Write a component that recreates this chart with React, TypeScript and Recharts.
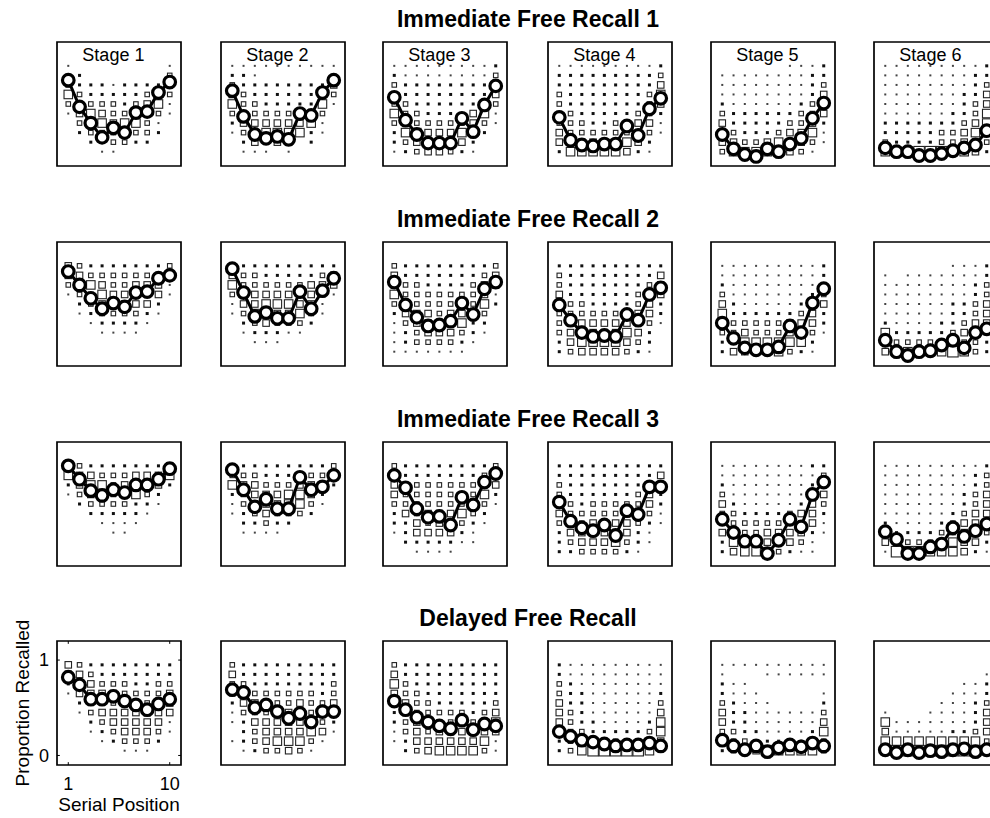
import React from 'react';
import { ScatterChart, Scatter, XAxis, YAxis, ReferenceArea, ReferenceLine } from 'recharts';

// serial positions (x) and proportion-recalled bins (y) of the square grid
const serialPositions = [1, 2, 3, 4, 5, 6, 7, 8, 9, 10];
const binLevels = [0.95, 0.85, 0.75, 0.65, 0.55, 0.45, 0.35, 0.25, 0.15, 0.05];
const stageLabels = ['Stage 1', 'Stage 2', 'Stage 3', 'Stage 4', 'Stage 5', 'Stage 6'];
const rowTitles = ['Immediate Free Recall 1', 'Immediate Free Recall 2', 'Immediate Free Recall 3', 'Delayed Free Recall'];

// mean proportion recalled per serial position, one array per stage
const meansIFR1 = [
  [0.80, 0.52, 0.35, 0.20, 0.30, 0.25, 0.46, 0.47, 0.67, 0.78],
  [0.69, 0.42, 0.23, 0.19, 0.21, 0.18, 0.45, 0.43, 0.67, 0.80],
  [0.62, 0.38, 0.23, 0.14, 0.14, 0.14, 0.40, 0.26, 0.54, 0.74],
  [0.41, 0.17, 0.12, 0.11, 0.13, 0.13, 0.32, 0.22, 0.50, 0.61],
  [0.23, 0.08, 0.02, 0.00, 0.08, 0.05, 0.13, 0.19, 0.40, 0.56],
  [0.09, 0.05, 0.05, 0.01, 0.01, 0.03, 0.06, 0.09, 0.12, 0.27],
];
const meansIFR2 = [
  [0.89, 0.75, 0.61, 0.50, 0.56, 0.52, 0.67, 0.68, 0.82, 0.85],
  [0.92, 0.67, 0.42, 0.46, 0.40, 0.40, 0.68, 0.50, 0.69, 0.82],
  [0.78, 0.54, 0.41, 0.32, 0.33, 0.37, 0.56, 0.44, 0.71, 0.78],
  [0.54, 0.38, 0.25, 0.21, 0.22, 0.21, 0.44, 0.38, 0.65, 0.72],
  [0.35, 0.19, 0.09, 0.07, 0.07, 0.10, 0.32, 0.25, 0.56, 0.71],
  [0.17, 0.05, 0.01, 0.05, 0.06, 0.12, 0.17, 0.09, 0.25, 0.29],
];
const meansIFR3 = [
  [0.95, 0.81, 0.69, 0.64, 0.70, 0.67, 0.75, 0.75, 0.81, 0.92],
  [0.91, 0.70, 0.52, 0.60, 0.50, 0.50, 0.83, 0.70, 0.73, 0.85],
  [0.85, 0.72, 0.50, 0.41, 0.42, 0.33, 0.62, 0.54, 0.78, 0.87],
  [0.57, 0.37, 0.30, 0.27, 0.33, 0.22, 0.48, 0.44, 0.73, 0.73],
  [0.39, 0.25, 0.16, 0.16, 0.03, 0.17, 0.39, 0.31, 0.65, 0.78],
  [0.26, 0.18, 0.03, 0.03, 0.10, 0.13, 0.30, 0.21, 0.27, 0.34],
];
const meansDFR = [
  [0.82, 0.74, 0.59, 0.59, 0.62, 0.57, 0.53, 0.48, 0.54, 0.59],
  [0.69, 0.66, 0.50, 0.53, 0.46, 0.39, 0.44, 0.35, 0.46, 0.46],
  [0.57, 0.48, 0.40, 0.35, 0.31, 0.28, 0.37, 0.27, 0.33, 0.31],
  [0.25, 0.20, 0.16, 0.14, 0.12, 0.10, 0.11, 0.11, 0.13, 0.10],
  [0.16, 0.10, 0.06, 0.10, 0.04, 0.08, 0.11, 0.09, 0.13, 0.10],
  [0.06, 0.03, 0.06, 0.03, 0.05, 0.04, 0.06, 0.07, 0.04, 0.06],
];

// how many subjects fall in each bin (0 = none .. 6 = most), rows top to bottom
const gridsIFR1 = [
  ['1000000001', '2200000003', '3222122223', '5322222343', '3333323451', '1454333331', '0305455310', '0233333320', '0022332200', '0001100000'],
  ['1111111111', '2210000001', '3222222224', '4322222233', '5332222251', '3333333330', '2444444510', '1305555210', '0240440200', '0111010000'],
  ['1111111112', '2111111113', '3222222224', '3222222224', '3322222233', '5332222451', '3333333431', '2554445320', '2344444200', '1234432100'],
  ['1111111112', '2222222223', '2222222224', '3222222235', '3222222234', '3322222332', '3332233441', '4333333331', '4444445420', '2555554210'],
  ['0000001112', '1111111122', '1111111123', '1111111124', '2111111234', '3222222334', '4222223342', '3322234451', '4433454431', '3555554310'],
  ['1111111112', '1111111122', '1111111123', '1111111224', '1111111234', '1111112235', '2222222345', '2222233453', '3222233443', '5556665542'],
];
const gridsIFR2 = [
  ['4322222223', '4433333334', '3354334441', '1335444341', '0234444420', '0123333210', '0012222100', '0001111000', '0000000000', '0000000000'],
  ['3222222222', '4332222234', '5333333444', '3444444431', '1445554410', '1354445310', '0234333200', '0122211000', '0011100000', '0000000000'],
  ['3222222223', '4222222234', '4332222344', '5333333341', '3333333352', '2444344430', '1344445220', '1234443210', '1233332100', '1111111000'],
  ['2222222222', '3222222224', '3222222234', '4222222334', '4332222342', '3333333442', '3444444331', '3444445420', '2455554320', '2344443210'],
  ['1111111112', '1111111112', '2111111112', '3111111123', '4211111234', '5222222342', '3333334442', '3343334431', '2355555520', '2444453210'],
  ['0000001112', '1011111112', '1111111123', '1111111123', '1111112234', '1111112234', '2111122344', '5222223442', '4333333332', '4455556532'],
];
const gridsIFR3 = [
  ['4322222224', '5443334445', '2455344442', '1344345320', '0233332210', '0022222100', '0001111000', '0000110000', '0000000000', '0000000000'],
  ['3222222223', '3332223334', '5443334442', '2344455420', '1344455310', '1234333200', '0223220000', '0111100000', '0000000000', '0000000000'],
  ['3222222223', '3222222234', '4333333334', '4333333352', '3333333331', '2434445320', '2243443210', '1244442100', '0222221100', '0011110000'],
  ['2222222222', '2222222224', '3222222234', '3222222342', '3323333342', '4333334431', '3434444321', '2444444210', '2344453210', '2233332100'],
  ['1111111122', '1111111113', '2111111123', '3111111134', '4211111243', '3322223442', '3333333341', '4433444421', '2544444310', '2455432110'],
  ['1111111112', '1111111123', '1111111123', '1111111234', '1111111234', '1111112344', '2111123444', '3222233433', '4433345442', '1666555421'],
];
const gridsDFR = [
  ['4322222222', '4432222222', '2443332233', '1444433334', '0233344344', '0134444444', '0023444441', '0012344431', '0001233320', '0000011100'],
  ['3222222222', '4222222222', '3322222223', '3333333323', '2444334334', '1333444344', '1244444432', '0234444541', '1234555310', '0123343100'],
  ['3222222222', '4222222222', '5322222222', '4332222222', '4433222223', '2333333234', '2344334335', '1343444444', '1244444451', '0234555531'],
  ['2111111111', '2111111111', '3211111111', '3221111112', '4221111113', '4321111114', '4322111125', '4332222235', '2343333334', '2356666651'],
  ['1111111111', '1000111111', '2110000000', '2111000001', '3211100002', '4221111113', '4221111114', '3322111125', '4332222243', '2334655553'],
  ['0000000000', '0000000001', '0000000112', '0000001112', '0000011123', '1000111124', '5111111124', '4111112234', '5555555553', '5666666665'],
];

const panelRows = [
  { title: rowTitles[0], means: meansIFR1, grids: gridsIFR1 },
  { title: rowTitles[1], means: meansIFR2, grids: gridsIFR2 },
  { title: rowTitles[2], means: meansIFR3, grids: gridsIFR3 },
  { title: rowTitles[3], means: meansDFR, grids: gridsDFR },
];

const FONT = "'Liberation Sans', Arial, Helvetica, sans-serif";
const COL_LEFT = [57, 221, 383, 548, 711, 874];
const ROW_TOP = [42, 242, 442, 641];
const BOX = 124;
const PAD = 2;
const SIDE = [0, 2, 3, 4.5, 6.5, 8.5, 10.5];

const SquareMark = (props: any) => {
  const { cx, cy, payload } = props;
  const side = SIDE[payload.s];
  if (payload.s <= 2) {
    return <rect x={cx - side / 2} y={cy - side / 2} width={side} height={side} fill={payload.s === 1 ? '#444' : '#111'} />;
  }
  return (
    <rect x={cx - side / 2} y={cy - side / 2} width={side} height={side} fill="#fff" stroke="#222" strokeWidth={1.1} />
  );
};

const CircleMark = (props: any) => {
  const { cx, cy } = props;
  return <circle cx={cx} cy={cy} r={5.8} fill="#fff" stroke="#000" strokeWidth={3.2} />;
};

function Panel({ means, grid, left, top, showAxes }: { means: number[]; grid: string[]; left: number; top: number; showAxes: boolean }) {
  const squares: { x: number; y: number; s: number }[] = [];
  grid.forEach((row, r) => {
    serialPositions.forEach((x, c) => {
      const s = Number(row[c]);
      if (s > 0) squares.push({ x, y: binLevels[r], s });
    });
  });
  const points = serialPositions.map((x, i) => ({ x, y: means[i] }));
  const yAxisW = showAxes ? 42 : 0;
  const xAxisH = showAxes ? 34 : 0;

  return (
    <div style={{ position: 'absolute', left: left - PAD - yAxisW, top: top - PAD }}>
      <ScatterChart
        width={BOX + 2 * PAD + yAxisW}
        height={BOX + 2 * PAD + xAxisH}
        margin={{ top: PAD, right: PAD, bottom: PAD, left: PAD }}
      >
        <XAxis
          type="number"
          dataKey="x"
          domain={[0, 11]}
          ticks={[1, 10]}
          hide={!showAxes}
          height={xAxisH}
          axisLine={false}
          tickLine={false}
          tickMargin={6}
          tick={{ fontSize: 18, fill: '#000' }}
          allowDataOverflow
        />
        <YAxis
          type="number"
          dataKey="y"
          domain={[-0.1, 1.2]}
          ticks={[0, 1]}
          hide={!showAxes}
          width={yAxisW}
          axisLine={false}
          tickLine={false}
          tick={{ fontSize: 18, fill: '#000' }}
          allowDataOverflow
        />
        <ReferenceArea x1={0} x2={11} y1={-0.1} y2={1.2} fill="none" stroke="#000" strokeWidth={1.7} />
        {showAxes && (
          <>
            <ReferenceLine segment={[{ x: 1, y: -0.1 }, { x: 1, y: -0.07 }]} stroke="#000" />
            <ReferenceLine segment={[{ x: 10, y: -0.1 }, { x: 10, y: -0.07 }]} stroke="#000" />
            <ReferenceLine segment={[{ x: 1, y: 1.2 }, { x: 1, y: 1.17 }]} stroke="#000" />
            <ReferenceLine segment={[{ x: 10, y: 1.2 }, { x: 10, y: 1.17 }]} stroke="#000" />
            <ReferenceLine segment={[{ x: 0, y: 0 }, { x: 0.25, y: 0 }]} stroke="#000" />
            <ReferenceLine segment={[{ x: 0, y: 1 }, { x: 0.25, y: 1 }]} stroke="#000" />
            <ReferenceLine segment={[{ x: 11, y: 0 }, { x: 10.75, y: 0 }]} stroke="#000" />
            <ReferenceLine segment={[{ x: 11, y: 1 }, { x: 10.75, y: 1 }]} stroke="#000" />
          </>
        )}
        <Scatter data={squares} shape={SquareMark} isAnimationActive={false} />
        <Scatter
          data={points}
          shape={CircleMark}
          line={{ stroke: '#000', strokeWidth: 3 }}
          isAnimationActive={false}
        />
      </ScatterChart>
    </div>
  );
}

export default function App() {
  return (
    <div
      style={{
        position: 'absolute',
        left: 0,
        top: 0,
        width: 990,
        height: 818,
        overflow: 'hidden',
        background: '#fff',
        fontFamily: FONT,
      }}
    >
      {panelRows.map((row, r) =>
        row.means.map((means, c) => (
          <Panel
            key={`${r}-${c}`}
            means={means}
            grid={row.grids[c]}
            left={COL_LEFT[c]}
            top={ROW_TOP[r]}
            showAxes={r === 3 && c === 0}
          />
        ))
      )}
      <svg width={990} height={818} style={{ position: 'absolute', left: 0, top: 0, pointerEvents: 'none' }} fontFamily={FONT}>
        {panelRows.map((row, r) => (
          <text key={row.title} x={528} y={ROW_TOP[r] - 15} textAnchor="middle" fontSize={23} fontWeight="bold">
            {row.title}
          </text>
        ))}
        {stageLabels.map((label, c) => (
          <text key={label} x={COL_LEFT[c] + 56.4} y={ROW_TOP[0] + 18.7} textAnchor="middle" fontSize={18}>
            {label}
          </text>
        ))}
        <text x={119} y={811} textAnchor="middle" fontSize={19}>
          Serial Position
        </text>
        <text transform="translate(29, 703) rotate(-90)" textAnchor="middle" fontSize={19}>
          Proportion Recalled
        </text>
      </svg>
    </div>
  );
}
